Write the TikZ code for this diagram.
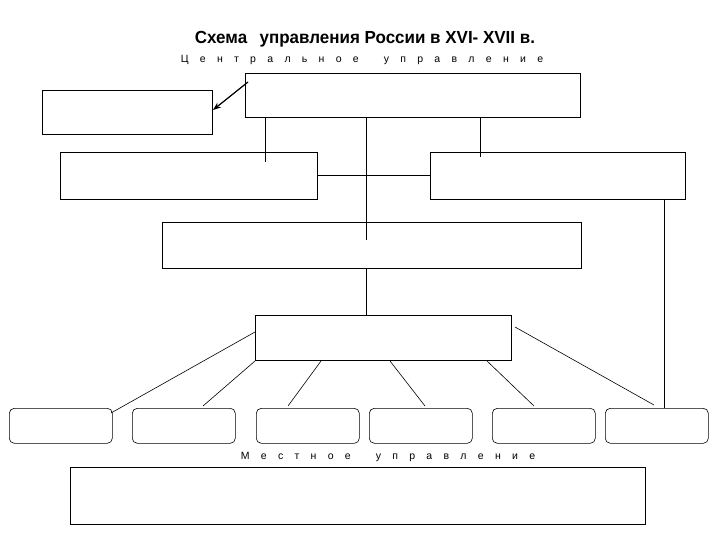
\documentclass[tikz,border=0pt]{standalone}
\usepackage{fontspec}
\usetikzlibrary{arrows.meta}
\setmainfont{Liberation Sans}
\def\ls{\hspace{11.3pt}}
\def\lw{\hspace{25pt}}
\begin{document}
\begin{tikzpicture}[x=1pt,y=-1pt,line width=0.8pt,
 bx/.style={draw,black,fill=white},
 rb/.style={draw,black,rounded corners=5pt,line width=0.6pt},
 ln/.style={draw,line width=0.6pt}]
\useasboundingbox (0,0) rectangle (720,540);
\node[font=\bfseries\fontsize{17.5}{20}\selectfont,xscale=0.97] (title) at (365,39) {Схема\hspace{8pt} управления России в XVI- XVII в.};
\node[font=\fontsize{10.5}{12}\selectfont] (sub) at (362,60) {Ц\ls е\ls н\ls т\ls р\ls а\ls л\ls ь\ls н\ls о\ls е\lw у\ls п\ls р\ls а\ls в\ls л\ls е\ls н\ls и\ls е};
\node[font=\fontsize{10.5}{12}\selectfont] (loc) at (388,457) {М\ls е\ls с\ls т\ls н\ls о\ls е\lw у\ls п\ls р\ls а\ls в\ls л\ls е\ls н\ls и\ls е};
% boxes
\node[bx,minimum width=335pt,minimum height=44pt,anchor=north west] (A) at (245,73) {};
\node[bx,minimum width=170pt,minimum height=44pt,anchor=north west] (L) at (42,90) {};
\node[bx,line width=0.6pt,minimum width=257pt,minimum height=47pt,anchor=north west] (B1) at (60,152) {};
\node[bx,line width=0.6pt,minimum width=255pt,minimum height=47pt,anchor=north west] (B2) at (430,152) {};
\node[bx,minimum width=419pt,minimum height=46pt,anchor=north west] (C) at (162,222) {};
\node[bx,minimum width=256pt,minimum height=45pt,anchor=north west] (D) at (255,315) {};
\foreach \x/\n in {9/s1,132/s2,256/s3,369/s4,492/s5,605/s6}
  \node[rb,minimum width=103pt,minimum height=35pt,anchor=north west] (\n) at (\x,408) {};
\node[bx,minimum width=575pt,minimum height=57pt,anchor=north west] (E) at (70,467) {};
% lines
\coordinate (a1) at (265,117); \coordinate (a1e) at (265,162);
\coordinate (a2) at (480,117); \coordinate (a2e) at (480,157);
\coordinate (a3) at (366,117); \coordinate (a3e) at (366,240);
\draw[ln] (a1)--(a1e); \draw[ln] (a2)--(a2e); \draw[ln] (a3)--(a3e);
\draw[ln] (B1.east)--(B2.west);
\draw[ln] (366,268)--(366,315);
\draw[ln] (664,199)--(664,408);
\draw[ln] (255,332)--(111,413);
\draw[ln] (255,361)--(203,406);
\draw[ln] (321,361)--(288,406);
\draw[ln] (390,361)--(425,406);
\draw[ln] (487,361)--(534,406);
\draw[ln] (515,327)--(654,405);
\draw[-{Stealth[length=8pt]},line width=1.2pt] (248,82)--(213,110);
\end{tikzpicture}
\end{document}
